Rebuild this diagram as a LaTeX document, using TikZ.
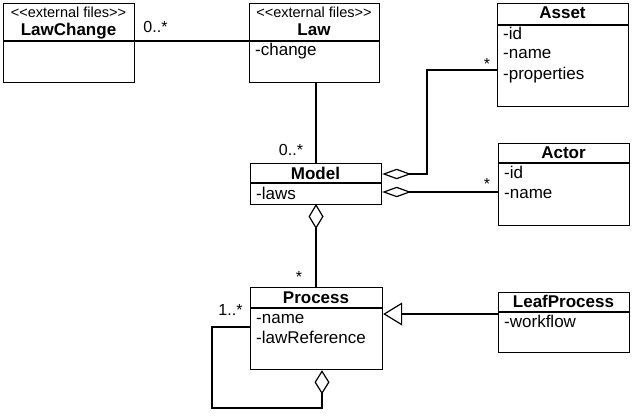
\documentclass[tikz,border=0pt]{standalone}
\usepackage{fontspec}
\setmainfont{Liberation Sans}
\usetikzlibrary{arrows.meta}
\tikzset{
  box/.style={draw, line width=1.2pt, inner sep=0pt, anchor=north west},
  divider/.style={line width=1.2pt},
  conn/.style={line width=1.2pt},
  attr/.style={anchor=base west, inner sep=0pt, font=\fontsize{17}{20}\selectfont},
  head/.style={anchor=base, inner sep=0pt, font=\fontsize{17}{20}\selectfont\bfseries},
  stereo/.style={anchor=base, inner sep=0pt, font=\fontsize{14.5}{16}\selectfont},
  mult/.style={anchor=base, inner sep=0pt, font=\fontsize{16}{18}\selectfont},
  hdia/.style={{Diamond[open, length=29pt, width=10.5pt]}-},
  vdia/.style={-{Diamond[open, length=24pt, width=15pt]}},
  vdiastart/.style={{Diamond[open, length=25pt, width=15pt]}-},
  gentri/.style={-{Triangle[open, length=19pt, width=23pt]}}
}
\begin{document}
\begin{tikzpicture}[x=1pt, y=-1pt]
\useasboundingbox (0,0) rectangle (637,418);

% class boxes
\node[box, minimum width=131pt, minimum height=79pt] (lawchange) at (3,3) {};
\node[box, minimum width=130pt, minimum height=79pt] (law) at (249,3) {};
\node[box, minimum width=131pt, minimum height=103pt] (asset) at (497,3) {};
\node[box, minimum width=131pt, minimum height=82pt] (actor) at (498,143) {};
\node[box, minimum width=131pt, minimum height=41pt] (model) at (250,163) {};
\node[box, minimum width=132pt, minimum height=82pt] (process) at (250,287) {};
\node[box, minimum width=131pt, minimum height=60pt] (leafprocess) at (498,292) {};

% header dividers
\draw[divider] ([yshift=-38pt]lawchange.north west) -- ([yshift=-38pt]lawchange.north east);
\draw[divider] ([yshift=-38pt]law.north west) -- ([yshift=-38pt]law.north east);
\draw[divider] ([yshift=-22pt]asset.north west) -- ([yshift=-22pt]asset.north east);
\draw[divider] ([yshift=-20pt]actor.north west) -- ([yshift=-20pt]actor.north east);
\draw[divider] ([yshift=-20pt]model.north west) -- ([yshift=-20pt]model.north east);
\draw[divider] ([yshift=-21pt]process.north west) -- ([yshift=-21pt]process.north east);
\draw[divider] ([yshift=-20pt]leafprocess.north west) -- ([yshift=-20pt]leafprocess.north east);

% texts
\node[stereo] (lcst) at (68.5,17) {{<}{<}external files{>}{>}};
\node[head] (lchd) at (68.5,35) {LawChange};
\node[stereo] (lawst) at (314,17) {{<}{<}external files{>}{>}};
\node[head] (lawhd) at (314,35) {Law};
\node[attr] (lawa1) at (255,55) {-change};

\node[head] (assethd) at (562.5,18.5) {Asset};
\node[attr] (asseta1) at (503,39) {-id};
\node[attr] (asseta2) at (503,58.5) {-name};
\node[attr] (asseta3) at (503,79) {-properties};

\node[head] (actorhd) at (563.5,158) {Actor};
\node[attr] (actora1) at (504,178) {-id};
\node[attr] (actora2) at (504,198) {-name};

\node[head] (modelhd) at (315.5,179) {Model};
\node[attr] (modela1) at (256,199) {-laws};

\node[head] (processhd) at (316,303) {Process};
\node[attr] (processa1) at (256,323) {-name};
\node[attr] (processa2) at (256,343) {-lawReference};

\node[head] (leafhd) at (563.5,307) {LeafProcess};
\node[attr] (leafa1) at (504,327) {-workflow};

% connectors
\draw[conn] ([yshift=-38pt]lawchange.north east) -- ([yshift=-38pt]law.north west);
\node[mult] (m1) at (155.5,32) {0..*};

\coordinate (lm) at (316,82);
\draw[conn] (lm) -- (lm |- model.north);
\node[mult] (m2) at (291,155) {0..*};

\coordinate (ma) at ([yshift=-11pt]model.north east);
\coordinate (corner) at (427,70);
\draw[conn, hdia] (ma) -| (corner) -- (corner -| asset.west);
\node[mult] (m3) at (487,69) {*};

\coordinate (mb) at ([yshift=-29pt]model.north east);
\draw[conn, hdia] (mb) -- (mb -| actor.west);
\node[mult] (m4) at (487,189) {*};

\coordinate (ms) at (316,204);
\draw[conn, vdiastart] (ms) -- (ms |- process.north);
\node[mult] (m5) at (299,282) {*};

\coordinate (lp) at ([yshift=-22pt]leafprocess.north west);
\draw[conn, gentri] (lp) -- (lp -| process.east);

\coordinate (pl) at ([yshift=-40pt]process.north west);
\coordinate (lc) at (212,408);
\coordinate (pb) at ([xshift=72pt]process.south west);
\draw[conn, vdia] (pl) -| (lc) -| (pb);
\node[mult] (m6) at (230.5,315) {1..*};
\end{tikzpicture}
\end{document}
